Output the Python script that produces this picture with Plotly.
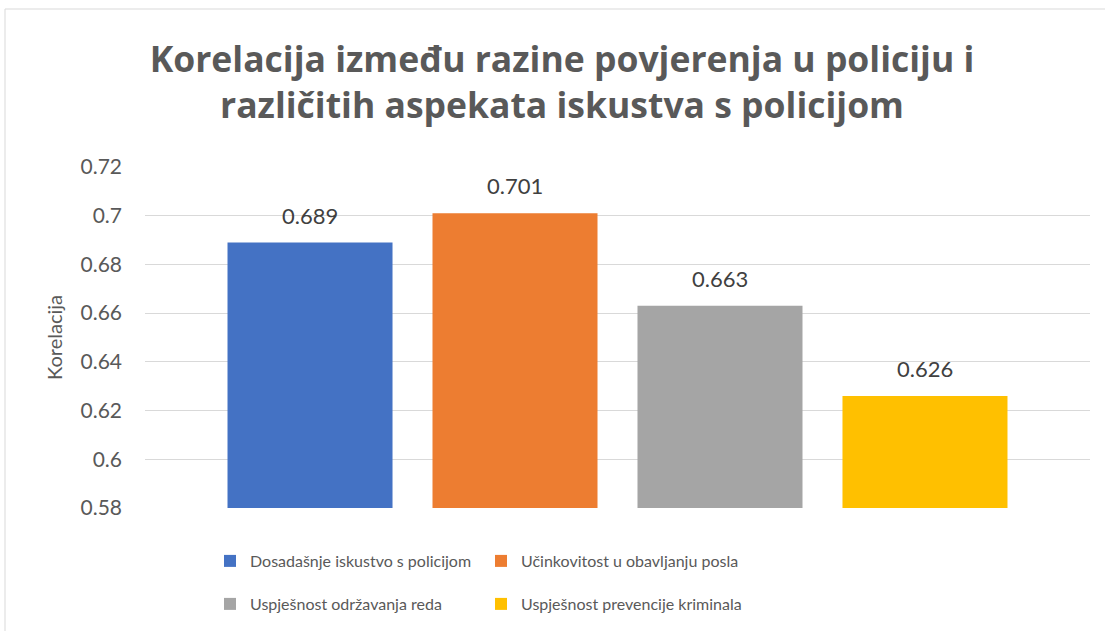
import plotly.graph_objects as go

categories = ["Dosadašnje iskustvo s policijom", "Učinkovitost u obavljanju posla",
              "Uspješnost održavanja reda", "Uspješnost prevencije kriminala"]
values = [0.689, 0.701, 0.663, 0.626]
colors = ["#4472C4", "#ED7D31", "#A5A5A5", "#FFC000"]
legend_ids = ["legend", "legend", "legend2", "legend2"]
y_ticks = [0.58, 0.60, 0.62, 0.64, 0.66, 0.68, 0.70, 0.72]
y_tick_labels = ["0.58", "0.6", "0.62", "0.64", "0.66", "0.68", "0.7", "0.72"]

FONT = "Lato, 'Open Sans', sans-serif"
TFONT = "'Open Sans', Lato, sans-serif"
TXT = "#595959"

W, H = 1105, 631
ML, MR, MT, MB = 145, 15, 167, 123
PW, PH = W - ML - MR, H - MT - MB

def px_x(p):
    return (p - ML) / PW

def px_y(p):
    return (H - MB - p) / PH

fig = go.Figure()
for cat, val, col, lg in zip(categories, values, colors, legend_ids):
    fig.add_trace(go.Bar(x=[cat], y=[val], name=cat, marker=dict(color=col, line=dict(width=0)),
                         width=0.805, legend=lg, hoverinfo="y"))
    fig.add_annotation(x=cat, y=val, text=f"{val:.3f}", showarrow=False, yanchor="bottom",
                       yshift=12, font=dict(family=FONT, size=22, color="#404040"))

fig.update_layout(
    width=W, height=H, barmode="overlay",
    margin=dict(l=ML, r=MR, t=MT, b=MB, autoexpand=False),
    paper_bgcolor="white", plot_bgcolor="white",
    title=dict(text="<b>Korelacija između razine povjerenja u policiju i<br>različitih aspekata iskustva s policijom</b>",
               x=562 / W, xanchor="center", xref="container", y=1 - 72 / H, yanchor="top", yref="container",
               font=dict(family=TFONT, size=35.5, color=TXT)),
    xaxis=dict(showticklabels=False, showgrid=False, zeroline=False, showline=False,
               range=[-0.805, 3.805], fixedrange=True),
    yaxis=dict(range=[0.58, 0.72], tickvals=y_ticks, ticktext=y_tick_labels, showgrid=True,
               gridcolor="#D9D9D9", gridwidth=1, zeroline=False, showline=False,
               tickfont=dict(family=FONT, size=21, color=TXT), ticklabelstandoff=22,
               title=dict(text="Korelacija", font=dict(family=FONT, size=20, color=TXT), standoff=12)),
    legend=dict(orientation="h", x=px_x(210), y=px_y(561), xanchor="left", yanchor="middle",
                entrywidth=226, font=dict(family=FONT, size=16, color=TXT), traceorder="normal"),
    legend2=dict(orientation="h", x=px_x(210), y=px_y(604), xanchor="left", yanchor="middle",
                 entrywidth=226, font=dict(family=FONT, size=16, color=TXT), traceorder="normal"),
    shapes=[dict(type="rect", xref="paper", yref="paper", x0=px_x(5), x1=px_x(1110),
                 y0=px_y(640), y1=px_y(9), line=dict(color="#D9D9D9", width=1), fillcolor="rgba(0,0,0,0)",
                 layer="below")],
)

fig.write_html("out.html", config={"displayModeBar": False},
               post_script="document.body.style.margin='0';")
